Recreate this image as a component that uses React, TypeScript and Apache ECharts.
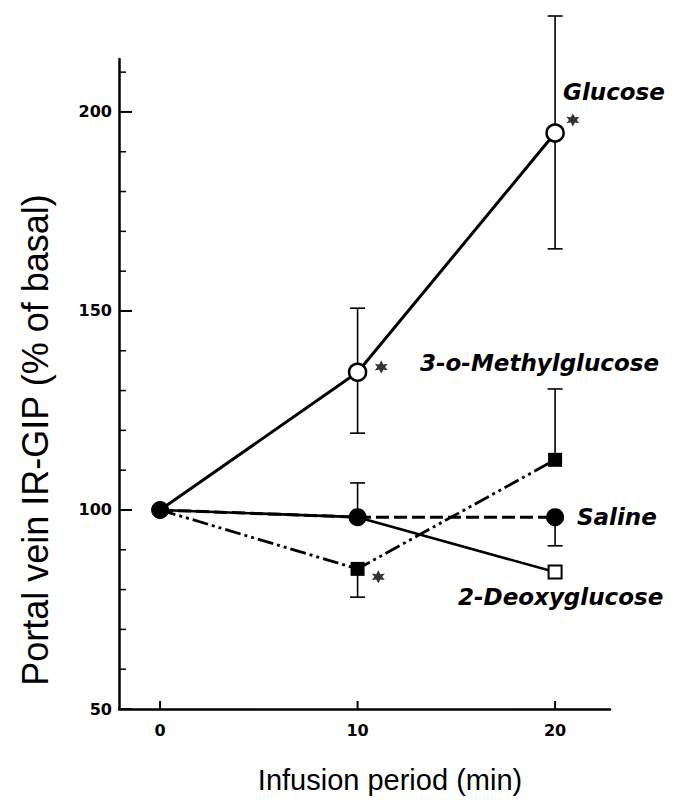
import React, { useEffect, useRef } from "react";
import * as echarts from "echarts";

// ---- data ----
const times = [0, 10, 20];
const glucose = [100, 134.6, 194.7];
const glucoseLow = [100, 119.3, 165.6];
const glucoseHigh = [100, 150.7, 224.1];
const saline = [100, 98.2, 98.2];
const salineLow = [100, 98.2, 91.0];
const salineHigh = [100, 106.8, 98.2];
const methylglucose = [100, 85.2, 112.6];
const methylLow = [100, 78.1, 112.6];
const methylHigh = [100, 85.2, 130.4];
const deoxyglucose = [100, 98.2, 84.4];
const sigX = [11.2, 20.9, 11.05];
const sigY = [135.9, 198.0, 83.2];
const yMajorTicks = [50, 100, 150, 200];
const yMinorTicks = [60, 70, 80, 90, 110, 120, 130, 140, 160, 170, 180, 190, 210];
const xTicks = [0, 10, 20];
const seriesNames = ["Glucose", "3-o-Methylglucose", "Saline", "2-Deoxyglucose"];

const STAR =
  "path://M10 0 L12.8 6 L18.66 5 L15.2 10 L18.66 15 L12.8 14 L10 20 L7.2 14 L1.34 15 L4.8 10 L1.34 5 L7.2 6 Z";

const X_MIN = -2.08;
const X_MAX = 22.78;
const Y_MIN = 50;
const Y_MAX = 213.3;

function errData(mean: number[], low: number[], high: number[]) {
  const out: number[][] = [];
  times.forEach((t, i) => {
    if (low[i] < mean[i] || high[i] > mean[i]) out.push([t, mean[i], low[i], high[i]]);
  });
  return out;
}

function lineData(vals: number[], hide: number[]) {
  return times.map((t, i) =>
    hide.includes(i) ? { value: [t, vals[i]], symbol: "none" } : { value: [t, vals[i]] }
  );
}

export default function App() {
  const ref = useRef<HTMLDivElement>(null);
  useEffect(() => {
    if (!ref.current) return;
    const chart = echarts.init(ref.current, undefined, { renderer: "svg" });
    const tickFont = { fontFamily: "DejaVu Sans", fontWeight: "bold" as const, fontSize: 16, color: "#000" };
    const errSeries = (data: number[][]) => ({
      type: "custom",
      coordinateSystem: "cartesian2d",
      silent: true,
      z: 1,
      clip: false,
      encode: { x: 0, y: [2, 3] },
      data,
      renderItem: (params: any, api: any) => {
        const x = api.value(0);
        const mean = api.value(1);
        const lo = api.value(2);
        const hi = api.value(3);
        const pLo = api.coord([x, lo]);
        const pHi = api.coord([x, hi]);
        const st = { stroke: "#000", lineWidth: 1.6 };
        const children: any[] = [
          { type: "line", shape: { x1: pLo[0], y1: pLo[1], x2: pHi[0], y2: pHi[1] }, style: st },
        ];
        if (lo < mean)
          children.push({ type: "line", shape: { x1: pLo[0] - 7.5, y1: pLo[1], x2: pLo[0] + 7.5, y2: pLo[1] }, style: st });
        if (hi > mean)
          children.push({ type: "line", shape: { x1: pHi[0] - 7.5, y1: pHi[1], x2: pHi[0] + 7.5, y2: pHi[1] }, style: st });
        return { type: "group", children };
      },
    });
    // axis ticks drawn at the axis scale positions: [x, y, lengthPx, horizontal(1)/vertical(0), width]
    const tickData: number[][] = [
      ...yMajorTicks.map((v) => [X_MIN, v, 13, 1, 2]),
      ...yMinorTicks.map((v) => [X_MIN, v, 7, 1, 1.5]),
      ...xTicks.map((t) => [t, Y_MIN, 8, 0, 2]),
    ];
    const tickSeries = {
      type: "custom",
      coordinateSystem: "cartesian2d",
      silent: true,
      z: 6,
      clip: false,
      encode: { x: 0, y: 1 },
      data: tickData,
      renderItem: (params: any, api: any) => {
        const p = api.coord([api.value(0), api.value(1)]);
        const len = api.value(2);
        const horiz = api.value(3) === 1;
        const w = api.value(4);
        return {
          type: "line",
          shape: horiz
            ? { x1: p[0], y1: p[1], x2: p[0] + len, y2: p[1] }
            : { x1: p[0], y1: p[1], x2: p[0], y2: p[1] - len },
          style: { stroke: "#000", lineWidth: w },
        };
      },
    };
    const labelFont = 'italic bold 23px "DejaVu Sans"';
    const lbl = (text: string, x: number, y: number) => ({
      type: "text",
      x,
      y,
      style: { text, font: labelFont, fill: "#000", align: "left", verticalAlign: "middle", textAlign: "left", textVerticalAlign: "middle" },
    });
    chart.setOption({
      animation: false,
      backgroundColor: "#fff",
      grid: { left: 119, right: 65, top: 59, bottom: 95 },
      xAxis: {
        type: "value",
        min: X_MIN,
        max: X_MAX,
        axisLine: { show: true, onZero: false, lineStyle: { color: "#000", width: 2.5 } },
        axisTick: { show: false },
        axisLabel: { ...tickFont, margin: 13, customValues: [...xTicks] },
        splitLine: { show: false },
      },
      yAxis: {
        type: "value",
        min: Y_MIN,
        max: Y_MAX,
        axisLine: { show: true, onZero: false, lineStyle: { color: "#000", width: 2.5 } },
        axisTick: { show: false },
        axisLabel: { ...tickFont, margin: 7, customValues: [...yMajorTicks] },
        splitLine: { show: false },
      },
      series: [
        tickSeries,
        errSeries(errData(glucose, glucoseLow, glucoseHigh)),
        errSeries(errData(saline, salineLow, salineHigh)),
        errSeries(errData(methylglucose, methylLow, methylHigh)),
        {
          name: seriesNames[3],
          type: "line",
          z: 2,
          silent: true,
          data: lineData(deoxyglucose, [0, 1]),
          symbol: "rect",
          symbolSize: 13,
          itemStyle: { color: "#fff", borderColor: "#000", borderWidth: 2 },
          lineStyle: { color: "#000", width: 2.6 },
        },
        {
          name: seriesNames[1],
          type: "line",
          z: 2,
          silent: true,
          data: lineData(methylglucose, [0]),
          symbol: "rect",
          symbolSize: 14,
          itemStyle: { color: "#000", borderColor: "#000", borderWidth: 0 },
          lineStyle: { color: "#000", width: 2.8, type: [16, 4, 3, 4, 3, 4] },
        },
        {
          name: seriesNames[0],
          type: "line",
          z: 3,
          silent: true,
          data: lineData(glucose, [0]),
          symbol: "circle",
          symbolSize: 17,
          itemStyle: { color: "#fff", borderColor: "#000", borderWidth: 2.5 },
          lineStyle: { color: "#000", width: 3 },
        },
        {
          name: seriesNames[2],
          type: "line",
          z: 4,
          silent: true,
          data: lineData(saline, []),
          symbol: "circle",
          symbolSize: 18,
          itemStyle: { color: "#000", borderColor: "#000", borderWidth: 0 },
          lineStyle: { color: "#000", width: 3, type: [13, 5] },
        },
        {
          type: "scatter",
          z: 5,
          silent: true,
          symbol: STAR,
          symbolSize: 13,
          itemStyle: { color: "#000" },
          data: sigX.map((x, i) => [x, sigY[i]]),
        },
      ],
      graphic: [
        lbl(seriesNames[0], 563, 92),
        lbl(seriesNames[1], 420, 363),
        lbl(seriesNames[2], 577, 517),
        lbl(seriesNames[3], 458, 597),
        {
          type: "text",
          x: 35,
          y: 440,
          rotation: Math.PI / 2,
          style: {
            text: "Portal vein IR-GIP (% of basal)",
            font: '36px "Liberation Sans"',
            fill: "#000",
            align: "center",
            verticalAlign: "middle",
            textAlign: "center",
            textVerticalAlign: "middle",
          },
        },
        {
          type: "text",
          x: 390,
          y: 780,
          style: {
            text: "Infusion period (min)",
            font: '29px "Liberation Sans"',
            fill: "#000",
            align: "center",
            verticalAlign: "middle",
            textAlign: "center",
            textVerticalAlign: "middle",
          },
        },
      ],
    });
    return () => chart.dispose();
  }, []);
  return <div ref={ref} style={{ position: "fixed", left: 0, top: 0, width: 675, height: 804 }} />;
}
